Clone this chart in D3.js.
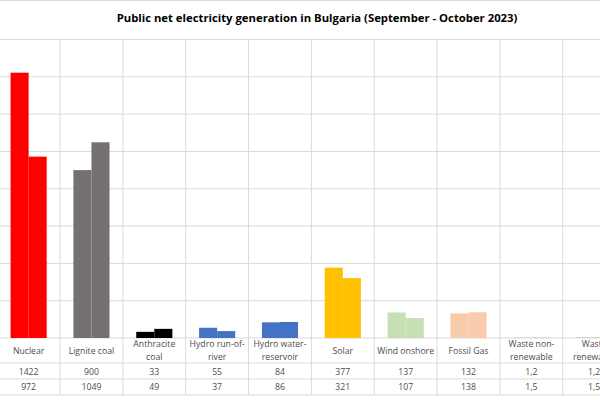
<!DOCTYPE html>
<html>
<head>
<meta charset="utf-8">
<script src="https://cdn.jsdelivr.net/npm/d3@7"></script>
<style>
  body { margin: 0; background: #fff; }
  svg { display: block; font-family: 'Open Sans', sans-serif; }
</style>
</head>
<body>
<div id="chart"></div>
<script>
// Data
const categories = ['Nuclear', 'Lignite coal', 'Anthracite coal', 'Hydro run-of-river',
  'Hydro water-reservoir', 'Solar', 'Wind onshore', 'Fossil Gas',
  'Waste non-renewable', 'Waste renewable'];
const categoryLines = [['Nuclear'], ['Lignite coal'], ['Anthracite', 'coal'],
  ['Hydro run-of-', 'river'], ['Hydro water-', 'reservoir'], ['Solar'],
  ['Wind onshore'], ['Fossil Gas'], ['Waste non-', 'renewable'], ['Waste', 'renewable']];
const september = [1422, 900, 33, 55, 84, 377, 137, 132, 1.2, 1.2];
const october = [972, 1049, 49, 37, 86, 321, 107, 138, 1.5, 1.5];
const colors = ['#ff0000', '#767171', '#000000', '#4472c4', '#4472c4',
  '#ffc000', '#c5e0b4', '#f8cbad', '#a5a5a5', '#70ad47'];
const yTicks = [0, 200, 400, 600, 800, 1000, 1200, 1400, 1600];

const W = 600, H = 400;
const gridColor = '#d9d9d9';

const svg = d3.select('#chart').append('svg')
  .attr('width', W)
  .attr('height', H);

svg.append('rect').attr('width', W).attr('height', H).attr('fill', '#fff');

// Scales
const x = d3.scaleBand()
  .domain(categories)
  .range([-2.8, 625.6]);

const xInner = d3.scaleBand()
  .domain(['sep', 'oct'])
  .range([0, x.bandwidth()])
  .paddingInner(0)
  .paddingOuter(0.74);

const y = d3.scaleLinear()
  .domain([0, 1600])
  .range([338, 39.5]);

// Chart border on top
svg.append('line')
  .attr('x1', 0).attr('x2', W)
  .attr('y1', 0.5).attr('y2', 0.5)
  .attr('stroke', gridColor);

// Horizontal gridlines
svg.append('g')
  .selectAll('line')
  .data(yTicks)
  .join('line')
  .attr('x1', 0).attr('x2', W)
  .attr('y1', d => y(d)).attr('y2', d => y(d))
  .attr('stroke', gridColor)
  .attr('stroke-width', 1);

// Table rows
const rowLines = [363, 379, 395];
svg.append('g')
  .selectAll('line')
  .data(rowLines)
  .join('line')
  .attr('x1', 0).attr('x2', W)
  .attr('y1', d => d).attr('y2', d => d)
  .attr('stroke', gridColor);

// Vertical category separators (through plot and table)
svg.append('g')
  .selectAll('line')
  .data(categories.slice(1))
  .join('line')
  .attr('x1', d => x(d)).attr('x2', d => x(d))
  .attr('y1', y(1600)).attr('y2', 395)
  .attr('stroke', gridColor);

// Bars
const bars = svg.append('g');
categories.forEach((c, i) => {
  const g = bars.append('g').attr('transform', `translate(${x(c)},0)`);
  [['sep', september[i]], ['oct', october[i]]].forEach(([k, v]) => {
    g.append('rect')
      .attr('x', xInner(k))
      .attr('width', xInner.bandwidth())
      .attr('y', y(v))
      .attr('height', y(0) - y(v))
      .attr('fill', colors[i]);
  });
});

// Category labels
const labels = svg.append('g')
  .attr('fill', '#4d4d4d')
  .attr('font-size', '8.7px')
  .attr('text-anchor', 'middle');
categories.forEach((c, i) => {
  const lines = categoryLines[i];
  const cx = x(c) + x.bandwidth() / 2;
  const t = labels.append('text')
    .attr('x', cx)
    .attr('y', lines.length === 1 ? 354 : 347);
  lines.forEach((l, j) => {
    t.append('tspan')
      .attr('x', cx)
      .attr('dy', j === 0 ? 0 : 13)
      .text(l);
  });
});

// Table values
const fmt = v => String(v).replace('.', ',');
[[september, 374.5], [october, 390]].forEach(([vals, ty]) => {
  svg.append('g')
    .attr('fill', '#4d4d4d')
    .attr('font-size', '8.7px')
    .attr('text-anchor', 'middle')
    .selectAll('text')
    .data(categories)
    .join('text')
    .attr('x', d => x(d) + x.bandwidth() / 2)
    .attr('y', ty)
    .text((d, i) => fmt(vals[i]));
});

// Title
svg.append('text')
  .attr('x', 317)
  .attr('y', 22)
  .attr('text-anchor', 'middle')
  .attr('font-size', '11.3px')
  .attr('font-weight', 'bold')
  .attr('fill', '#000')
  .text('Public net electricity generation in Bulgaria (September - October 2023)');
</script>
</body>
</html>
